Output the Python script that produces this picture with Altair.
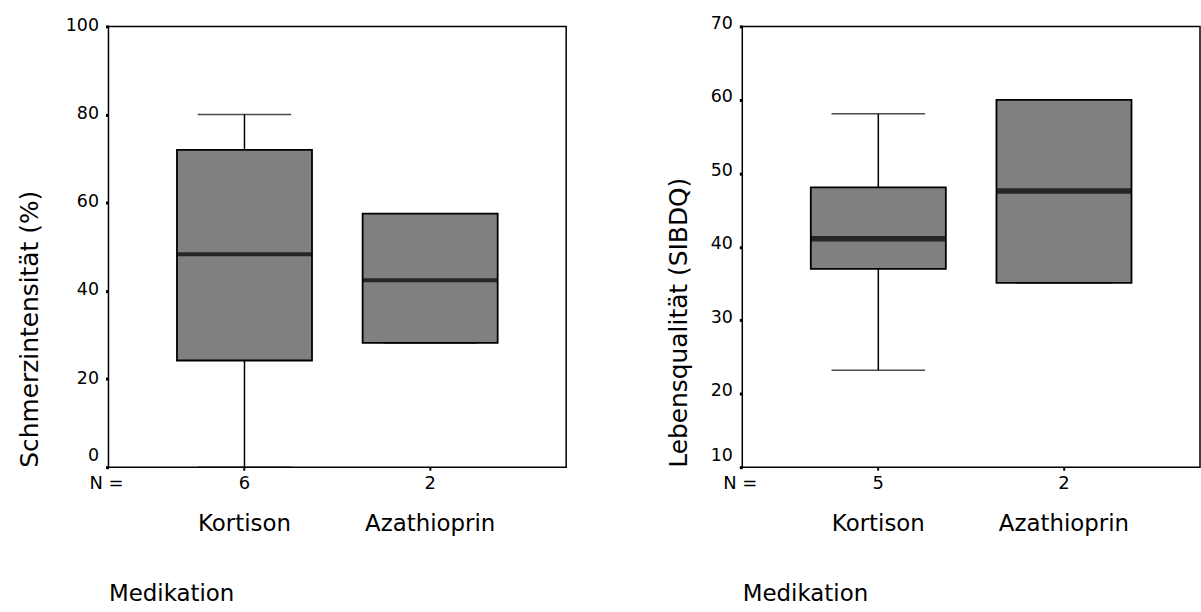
import altair as alt
import pandas as pd

categories = ["Kortison", "Azathioprin"]

# Panel 1: Schmerzintensität (%)
pain_n = [6, 2]
pain_low = [0.0, 28.2]
pain_q1 = [24.2, 28.2]
pain_med = [48.3, 42.4]
pain_q3 = [72.0, 57.5]
pain_high = [80.0, 57.5]
pain_ticks = [0, 20, 40, 60, 80, 100]

# Panel 2: Lebensqualität (SIBDQ)
qol_n = [5, 2]
qol_low = [23.2, 35.1]
qol_q1 = [37.0, 35.1]
qol_med = [41.1, 47.6]
qol_q3 = [48.1, 60.0]
qol_high = [58.1, 60.0]
qol_ticks = [10, 20, 30, 40, 50, 60, 70]

FONT = "DejaVu Sans"
W, H = 460, 443
BOXW = 136
CAPW = 94


def panel(n, low, q1, med, q3, high, ticks, ytitle, title_pad, med_thick, lab_off):
    df = pd.DataFrame(dict(cat=categories, n=n, low=low, q1=q1, med=med, q3=q3, high=high))
    base = alt.Chart(df)
    xscale = alt.Scale(domain=categories, paddingInner=0.2727, paddingOuter=0.369)
    xaxis = alt.Axis(
        title="Medikation", labelAngle=0, labelPadding=43, tickSize=3, tickWidth=2,
        tickColor="black", domain=False, titleAnchor="start", titleAlign="left",
        titlePadding=47, labelFont=FONT, labelFontSize=23, titleFont=FONT,
        titleFontSize=23, titleFontWeight="normal", labelColor="black", titleColor="black",
    )
    yscale = alt.Scale(domain=[ticks[0], ticks[-1]], nice=False, zero=False)
    yaxis = alt.Axis(
        title=ytitle, values=ticks, grid=False, domain=False, tickSize=3, tickWidth=3,
        tickColor="black", labelPadding=7, labelFont=FONT, labelFontSize=17.5,
        labelColor="black", titleFont=FONT, titleFontSize=25, titleFontWeight="normal",
        titleColor="black", titleAnchor="start", titlePadding=title_pad,
        labelOffset={"condition": {"test": f"datum.value == {ticks[0]}", "value": -11.5},
                     "value": lab_off},
    )
    x = alt.X("cat:N", scale=xscale, axis=xaxis)
    whisker = base.mark_rule(color="black", strokeWidth=1.5).encode(
        x=x, y=alt.Y("low:Q", scale=yscale, axis=yaxis), y2="high:Q"
    )
    cap_hi = base.mark_tick(color="black", size=CAPW, thickness=1.5).encode(x="cat:N", y="high:Q")
    cap_lo = base.mark_tick(color="black", size=CAPW, thickness=1.5).encode(x="cat:N", y="low:Q")
    box = base.mark_bar(color="#808080", stroke="black", strokeWidth=1.8).encode(
        x="cat:N", y="q1:Q", y2="q3:Q"
    )
    median = base.mark_tick(color="black", size=BOXW, thickness=med_thick).encode(x="cat:N", y="med:Q")
    ntext = base.mark_text(font=FONT, fontSize=18, baseline="middle", color="black").encode(
        x="cat:N", y=alt.value(H + 17), text="n:Q"
    )
    nlabel = alt.Chart(pd.DataFrame({"t": ["N ="]})).mark_text(
        font=FONT, fontSize=18, baseline="middle", align="center", color="black"
    ).encode(x=alt.value(-2), y=alt.value(H + 17), text="t:N")
    return alt.layer(whisker, cap_hi, cap_lo, box, median, ntext, nlabel).properties(width=W, height=H)


left = panel(pain_n, pain_low, pain_q1, pain_med, pain_q3, pain_high, pain_ticks,
             "Schmerzintensität (%)", 23, 4, -1)
right = panel(qol_n, qol_low, qol_q1, qol_med, qol_q3, qol_high, qol_ticks,
              "Lebensqualität (SIBDQ)", 19, 5.5, -3)

chart = alt.hconcat(left, right, spacing=98).properties(
    padding={"left": 16, "top": 12, "right": 0, "bottom": 0}
).configure(
    background="white",
    view=alt.ViewConfig(stroke="black", strokeWidth=1.5),
)

chart.save("out.html", embed_options={"renderer": "svg", "actions": False})
